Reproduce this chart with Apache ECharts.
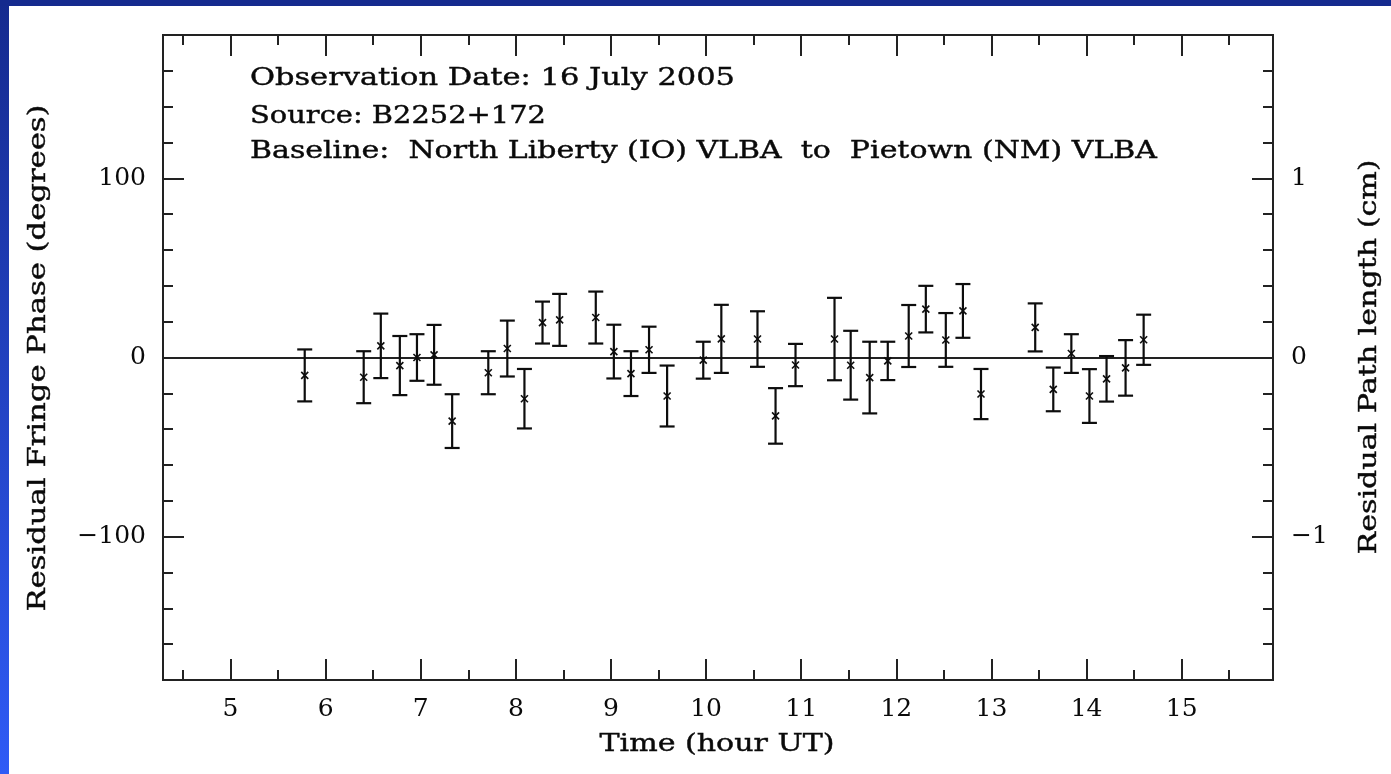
<!DOCTYPE html>
<html>
<head>
<meta charset="utf-8">
<script src="https://cdn.jsdelivr.net/npm/echarts@6/dist/echarts.min.js"></script>
<style>
  html, body { margin: 0; padding: 0; background: #ffffff; }
  #chart { width: 1391px; height: 774px; }
</style>
</head>
<body>
<div id="chart"></div>
<script>
// ---- data ----
const hours = [5.78, 6.40, 6.58, 6.78, 6.96, 7.14, 7.33, 7.71, 7.91, 8.09,
  8.28, 8.46, 8.84, 9.03, 9.21, 9.40, 9.59, 9.97, 10.16, 10.54,
  10.73, 10.94, 11.35, 11.52, 11.72, 11.91, 12.13, 12.31, 12.52, 12.70,
  12.89, 13.46, 13.65, 13.84, 14.03, 14.21, 14.41, 14.60];
const phase = [-10, -11, 6.5, -4.5, 0, 1.5, -35.5, -8.5, 5, -23,
  19.5, 21, 22.3, 3.3, -9, 4.3, -21.5, -1.5, 10.4, 10.3,
  -32.6, -4.2, 10.3, -4.3, -11.2, -1.9, 12, 27, 9.8, 26,
  -20.4, 16.8, -17.8, 2.2, -21.5, -11.9, -5.8, 9.9];
const phaseErr = [14.5, 14.5, 18, 16.5, 13, 16.7, 15, 12, 15.6, 16.6,
  11.7, 14.5, 14.5, 15, 12.5, 12.9, 17, 10.3, 19, 15.5,
  15.5, 11.8, 23, 19.2, 20, 10.7, 17.3, 13, 15, 15,
  14, 13.4, 12.2, 10.8, 15, 12.7, 15.5, 14];

const xMajorTicks = [5, 6, 7, 8, 9, 10, 11, 12, 13, 14, 15];
const xMinorTicks = [4.5, 5.5, 6.5, 7.5, 8.5, 9.5, 10.5, 11.5, 12.5, 13.5, 14.5, 15.5];
const yMajorTicks = [-100, 0, 100];
const yMinorTicks = [-160, -140, -120, -80, -60, -40, -20, 20, 40, 60, 80, 120, 140, 160];
const cmMajorTicks = [-1, 0, 1];
const cmMinorTicks = [-1.6, -1.4, -1.2, -0.8, -0.6, -0.4, -0.2, 0.2, 0.4, 0.6, 0.8, 1.2, 1.4, 1.6];

const annotationLines = [
  'Observation Date: 16 July 2005',
  'Source: B2252+172',
  'Baseline:  North Liberty (IO) VLBA  to  Pietown (NM) VLBA'
];
const xTitle = 'Time (hour UT)';
const yLeftTitle = 'Residual Fringe Phase (degrees)';
const yRightTitle = 'Residual Path length (cm)';

// ---- styling / layout ----
const FONT_FAMILY = '"DejaVu Serif", "Liberation Serif", serif';
const FONT_SIZE = 24;
const LABEL_SIZE = 25;
const INK = '#0a0a0a';
const AXIS = '#222222';
const GRID = { left: 163, top: 35, right: 118, bottom: 94 };
const X_MIN = 4.29, X_MAX = 15.96;
const Y_MIN = -180, Y_MAX = 180;

const ctx = document.createElement('canvas').getContext('2d');
function textWidth(t) {
  ctx.font = FONT_SIZE + 'px ' + FONT_FAMILY;
  return ctx.measureText(t).width;
}
function stretchedText(t, targetWidth, x, y, align, rotation) {
  const s = targetWidth / textWidth(t);
  return {
    type: 'text', x: x, y: y, rotation: rotation || 0, scaleX: s, z: 10,
    style: {
      text: t, fill: INK, fontFamily: FONT_FAMILY, fontSize: FONT_SIZE,
      textAlign: align, textVerticalAlign: 'middle',
      stroke: INK, lineWidth: 0.4
    }
  };
}
const minusFmt = v => String(v).replace('-', '\u2212');

function majorAxisCommon(ticks, withLabels, margin) {
  return {
    axisLine: { show: true, onZero: false, lineStyle: { color: AXIS, width: 2 } },
    axisTick: { show: true, inside: true, length: 21, customValues: ticks, lineStyle: { color: AXIS, width: 2 } },
    axisLabel: withLabels ? {
      show: true, customValues: ticks, margin: margin, color: INK,
      fontFamily: FONT_FAMILY, fontSize: LABEL_SIZE, formatter: minusFmt
    } : { show: false },
    splitLine: { show: false },
    minorTick: { show: false }
  };
}
function minorAxisCommon(ticks) {
  return {
    axisLine: { show: true, onZero: false, lineStyle: { color: AXIS, width: 2 } },
    axisTick: { show: true, inside: true, length: 10, customValues: ticks, lineStyle: { color: AXIS, width: 2 } },
    axisLabel: { show: false },
    splitLine: { show: false }
  };
}

const chart = echarts.init(document.getElementById('chart'), null, { renderer: 'canvas' });

const option = {
  backgroundColor: '#ffffff',
  animation: false,
  grid: [
    Object.assign({}, GRID),
    Object.assign({}, GRID)
  ],
  xAxis: [
    Object.assign({ type: 'value', gridIndex: 0, position: 'bottom', min: X_MIN, max: X_MAX }, majorAxisCommon(xMajorTicks, true, 17)),
    Object.assign({ type: 'value', gridIndex: 0, position: 'top', min: X_MIN, max: X_MAX }, majorAxisCommon(xMajorTicks, false)),
    Object.assign({ type: 'value', gridIndex: 1, position: 'bottom', min: X_MIN, max: X_MAX }, minorAxisCommon(xMinorTicks)),
    Object.assign({ type: 'value', gridIndex: 1, position: 'top', min: X_MIN, max: X_MAX }, minorAxisCommon(xMinorTicks))
  ],
  yAxis: [
    Object.assign({ type: 'value', gridIndex: 0, position: 'left', min: Y_MIN, max: Y_MAX }, majorAxisCommon(yMajorTicks, true, 17)),
    Object.assign({ type: 'value', gridIndex: 0, position: 'right', min: Y_MIN / 100, max: Y_MAX / 100 }, majorAxisCommon(cmMajorTicks, true, 18)),
    Object.assign({ type: 'value', gridIndex: 1, position: 'left', min: Y_MIN, max: Y_MAX }, minorAxisCommon(yMinorTicks)),
    Object.assign({ type: 'value', gridIndex: 1, position: 'right', min: Y_MIN / 100, max: Y_MAX / 100 }, minorAxisCommon(cmMinorTicks))
  ],
  series: [{
    type: 'custom',
    xAxisIndex: 0,
    yAxisIndex: 0,
    data: hours.map((h, i) => [h, phase[i], phaseErr[i]]),
    encode: { x: 0, y: 1 },
    renderItem: function (params, api) {
      const x = api.value(0), v = api.value(1), e = api.value(2);
      const top = api.coord([x, v + e]);
      const bot = api.coord([x, v - e]);
      const c = api.coord([x, v]);
      const cap = 7.5, m = 3.5;
      const st = { stroke: '#0d0d0d', lineWidth: 2.2 };
      const sx = { stroke: '#0d0d0d', lineWidth: 1.6 };
      return {
        type: 'group',
        children: [
          { type: 'line', shape: { x1: top[0], y1: top[1], x2: bot[0], y2: bot[1] }, style: st },
          { type: 'line', shape: { x1: top[0] - cap, y1: top[1], x2: top[0] + cap, y2: top[1] }, style: st },
          { type: 'line', shape: { x1: bot[0] - cap, y1: bot[1], x2: bot[0] + cap, y2: bot[1] }, style: st },
          { type: 'line', shape: { x1: c[0] - m, y1: c[1] - m, x2: c[0] + m, y2: c[1] + m }, style: sx },
          { type: 'line', shape: { x1: c[0] - m, y1: c[1] + m, x2: c[0] + m, y2: c[1] - m }, style: sx }
        ]
      };
    },
    markLine: {
      silent: true,
      symbol: ['none', 'none'],
      label: { show: false },
      lineStyle: { color: AXIS, width: 2, type: 'solid' },
      data: [{ yAxis: 0 }]
    },
    z: 5
  }],
  graphic: [
    {
      type: 'rect', z: -1, silent: true,
      shape: { x: 0, y: 0, width: 9, height: 774 },
      style: { fill: new echarts.graphic.LinearGradient(0, 0, 0, 1, [
        { offset: 0, color: '#152a8e' }, { offset: 1, color: '#2f5bf6' }
      ]) }
    },
    {
      type: 'rect', z: -1, silent: true,
      shape: { x: 0, y: 0, width: 1391, height: 6 },
      style: { fill: '#152a8e' }
    },
    stretchedText(annotationLines[0], 485, 250, 79, 'left'),
    stretchedText(annotationLines[1], 296, 250, 117, 'left'),
    stretchedText(annotationLines[2], 907, 250, 152, 'left'),
    stretchedText(xTitle, 235, 717, 745, 'center'),
    stretchedText(yLeftTitle, 507, 39, 358, 'center', Math.PI / 2),
    stretchedText(yRightTitle, 395, 1370, 357, 'center', Math.PI / 2)
  ]
};
chart.setOption(option);
</script>
</body>
</html>
